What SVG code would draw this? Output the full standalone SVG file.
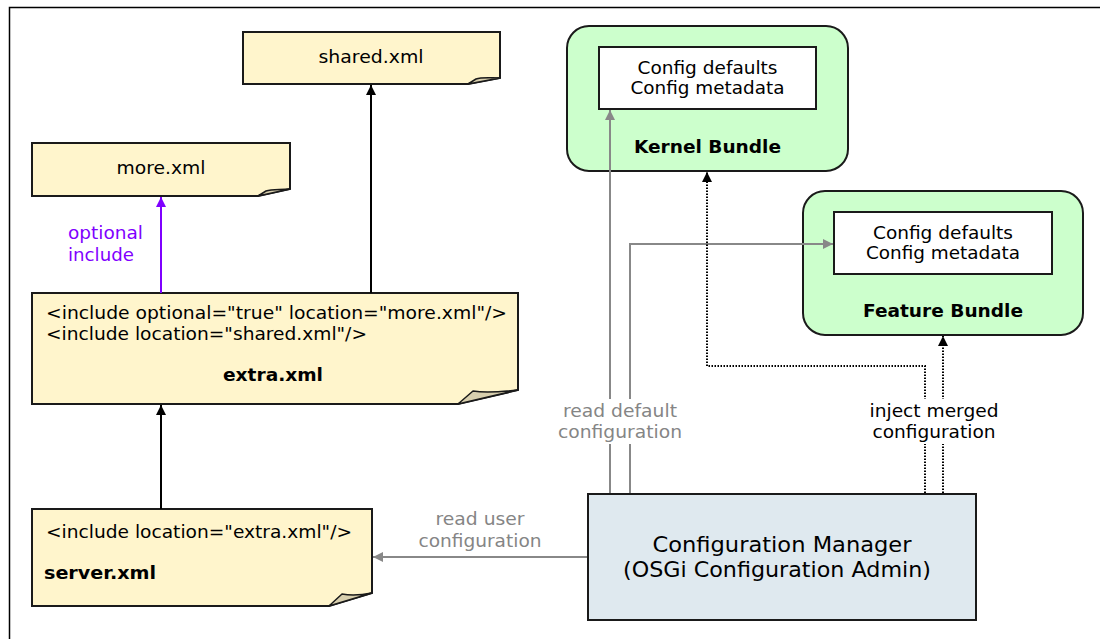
<svg xmlns="http://www.w3.org/2000/svg" width="1100" height="639" viewBox="0 0 1100 639">
  <style>
    text { font-family: "DejaVu Sans", Verdana, sans-serif; font-size: 18px; fill: #000; }
    .b { font-weight: bold; }
    .mid { text-anchor: middle; }
    .grey { fill: #858585; }
    .purple { fill: #7f00ff; }
    .cm { font-size: 22px; }
    .note { fill: #fff5cc; stroke: #1a1a1a; stroke-width: 2; stroke-linejoin: miter; }
    .curl { fill: #d8cfae; stroke: #1a1a1a; stroke-width: 1.5; stroke-linejoin: round; }
    .bundle { fill: #ccffcc; stroke: #1a1a1a; stroke-width: 2; }
    .inner { fill: #ffffff; stroke: #1a1a1a; stroke-width: 2; }
    .mgr { fill: #dfe9ef; stroke: #1a1a1a; stroke-width: 2; }
    .line { fill: none; stroke-width: 2; }
    .solid { stroke: #000; marker-end: url(#ah-black); }
    .opt { stroke: #7f00ff; marker-end: url(#ah-purple); }
    .gray { stroke: #888888; marker-end: url(#ah-gray); }
    .dot { stroke: #000; stroke-dasharray: 1.5 1.5; marker-end: url(#ah-black); }
  </style>
  <defs>
    <marker id="ah-black" viewBox="0 0 10 10" refX="10" refY="5" markerWidth="10" markerHeight="10" markerUnits="userSpaceOnUse" orient="auto">
      <path d="M0,0 L10,5 L0,10 Z" fill="#000"/>
    </marker>
    <marker id="ah-purple" viewBox="0 0 10 10" refX="10" refY="5" markerWidth="10" markerHeight="10" markerUnits="userSpaceOnUse" orient="auto">
      <path d="M0,0 L10,5 L0,10 Z" fill="#7f00ff"/>
    </marker>
    <marker id="ah-gray" viewBox="0 0 10 10" refX="10" refY="5" markerWidth="10" markerHeight="10" markerUnits="userSpaceOnUse" orient="auto">
      <path d="M0,0 L10,5 L0,10 Z" fill="#888888"/>
    </marker>
  </defs>

  <!-- page frame -->
  <path d="M9.5,639 V7.5 H1100" fill="none" stroke="#000" stroke-width="1.5"/>

  <!-- shared.xml -->
  <g id="shared-xml">
    <path class="note" d="M243,32 H500 V78 L468,84 H243 Z"/>
    <path class="curl" d="M468,84 L476,79 C482,77 490,78 500,78 Z"/>
    <text class="mid" x="371" y="63" textLength="105" lengthAdjust="spacingAndGlyphs">shared.xml</text>
  </g>

  <!-- more.xml -->
  <g id="more-xml">
    <path class="note" d="M32,143 H290 V189 L258,196 H32 Z"/>
    <path class="curl" d="M258,196 L266,191 C272,189 280,190 290,189 Z"/>
    <text class="mid" x="161" y="174" textLength="89" lengthAdjust="spacingAndGlyphs">more.xml</text>
  </g>

  <!-- extra.xml -->
  <g id="extra-xml">
    <path class="note" d="M32,293 H518 V390 L458,404 H32 Z"/>
    <path class="curl" d="M458,404 L473,391 C485,393 500,392 518,390 Z"/>
    <text x="46" y="319" textLength="461" lengthAdjust="spacingAndGlyphs">&lt;include optional="true" location="more.xml"/&gt;</text>
    <text x="46" y="340" textLength="321" lengthAdjust="spacingAndGlyphs">&lt;include location="shared.xml"/&gt;</text>
    <text class="b mid" x="273" y="381" textLength="100" lengthAdjust="spacingAndGlyphs">extra.xml</text>
  </g>

  <!-- server.xml -->
  <g id="server-xml">
    <path class="note" d="M32,509 H372 V593 L329,606 H32 Z"/>
    <path class="curl" d="M329,606 L342,594 C352,596 362,595 372,593 Z"/>
    <text x="46" y="538" textLength="306" lengthAdjust="spacingAndGlyphs">&lt;include location="extra.xml"/&gt;</text>
    <text class="b" x="44" y="579" textLength="112" lengthAdjust="spacingAndGlyphs">server.xml</text>
  </g>

  <!-- Kernel Bundle -->
  <g id="kernel-bundle">
    <rect class="bundle" x="567" y="26" width="281" height="145" rx="22" ry="22"/>
    <rect class="inner" x="599" y="47" width="217" height="62"/>
    <text class="mid" x="707.5" y="74" textLength="140" lengthAdjust="spacingAndGlyphs">Config defaults</text>
    <text class="mid" x="707.5" y="94" textLength="154" lengthAdjust="spacingAndGlyphs">Config metadata</text>
    <text class="b mid" x="707.5" y="153" textLength="147" lengthAdjust="spacingAndGlyphs">Kernel Bundle</text>
  </g>

  <!-- Feature Bundle -->
  <g id="feature-bundle">
    <rect class="bundle" x="803" y="191" width="280" height="144" rx="22" ry="22"/>
    <rect class="inner" x="834" y="212" width="218" height="62"/>
    <text class="mid" x="943" y="239" textLength="140" lengthAdjust="spacingAndGlyphs">Config defaults</text>
    <text class="mid" x="943" y="259" textLength="154" lengthAdjust="spacingAndGlyphs">Config metadata</text>
    <text class="b mid" x="943" y="317" textLength="160" lengthAdjust="spacingAndGlyphs">Feature Bundle</text>
  </g>

  <!-- Configuration Manager -->
  <g id="configuration-manager">
    <rect class="mgr" x="588" y="494" width="388" height="126"/>
    <text class="cm mid" x="782" y="552" textLength="259" lengthAdjust="spacingAndGlyphs">Configuration Manager</text>
    <text class="cm mid" x="777" y="577" textLength="308" lengthAdjust="spacingAndGlyphs">(OSGi Configuration Admin)</text>
  </g>

  <!-- connectors, drawn over the boxes they enter -->
  <g id="connectors">
    <line class="line opt" x1="161" y1="293" x2="161" y2="197"/>
    <line class="line solid" x1="371" y1="293" x2="371" y2="85"/>
    <line class="line solid" x1="161" y1="509" x2="161" y2="405"/>
    <line class="line gray" x1="587" y1="557" x2="373" y2="557"/>
    <line class="line gray" x1="610" y1="493" x2="610" y2="110"/>
    <polyline class="line gray" points="630,493 630,244 833,244"/>
    <polyline class="line dot" points="925,493 925,366 707,366 707,172"/>
    <line class="line dot" x1="943" y1="493" x2="943" y2="336"/>

    <text class="purple" x="68" y="239" textLength="75" lengthAdjust="spacingAndGlyphs">optional</text>
    <text class="purple" x="68" y="261" textLength="66" lengthAdjust="spacingAndGlyphs">include</text>

    <text class="grey mid" x="480" y="525" textLength="89" lengthAdjust="spacingAndGlyphs">read user</text>
    <text class="grey mid" x="480" y="547" textLength="123" lengthAdjust="spacingAndGlyphs">configuration</text>

    <rect x="556" y="399" width="128" height="45" fill="#fff"/>
    <text class="grey mid" x="620" y="417" textLength="114" lengthAdjust="spacingAndGlyphs">read default</text>
    <text class="grey mid" x="620" y="438" textLength="124" lengthAdjust="spacingAndGlyphs">configuration</text>

    <rect x="866" y="399" width="136" height="45" fill="#fff"/>
    <text class="mid" x="934" y="417" textLength="129" lengthAdjust="spacingAndGlyphs">inject merged</text>
    <text class="mid" x="934" y="438" textLength="123" lengthAdjust="spacingAndGlyphs">configuration</text>
  </g>
</svg>
